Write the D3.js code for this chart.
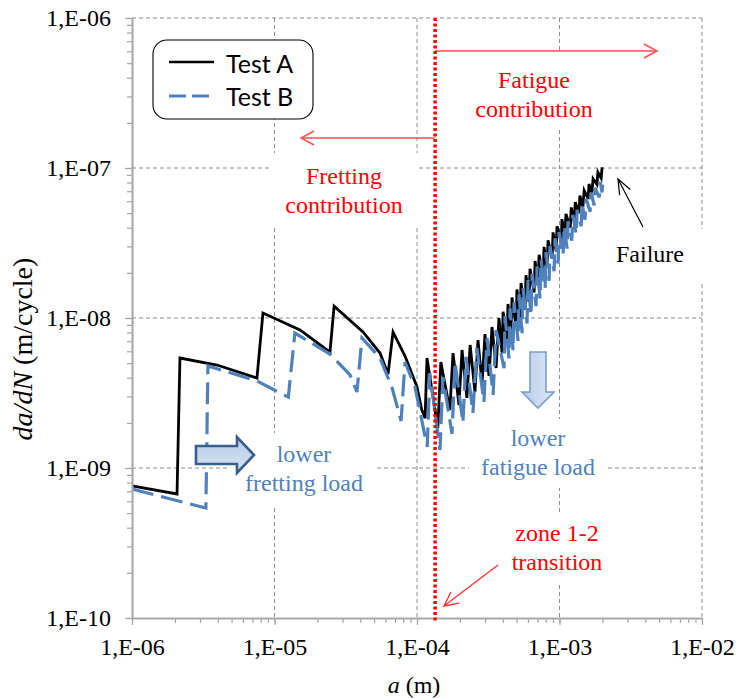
<!DOCTYPE html>
<html><head><meta charset="utf-8">
<script src="https://cdn.jsdelivr.net/npm/d3@7"></script>
<style>
html,body{margin:0;padding:0;background:#fff;}
svg{display:block;}
.serif{font-family:"Liberation Serif","Times New Roman","DejaVu Serif",serif;}
.sans{font-family:Lato,"Open Sans",sans-serif;}
</style></head>
<body>
<svg id="chart" width="736" height="698"></svg>
<script>
// ---------- data ----------
const xDomain = [1e-6, 1e-2];
const yDomain = [1e-10, 1e-6];
const xTickValues = [1e-6, 1e-5, 1e-4, 1e-3, 1e-2];
const xTickLabels = ["1,E-06", "1,E-05", "1,E-04", "1,E-03", "1,E-02"];
const yTickValues = [1e-10, 1e-9, 1e-8, 1e-7, 1e-6];
const yTickLabels = ["1,E-10", "1,E-09", "1,E-08", "1,E-07", "1,E-06"];
const seriesNames = ["Test A", "Test B"];

// Test A : crack length a (m) and da/dN (m/cycle)
const testA_a = [1.00e-6, 2.07e-6, 2.17e-6, 3.95e-6, 7.53e-6, 8.30e-6, 1.51e-5, 2.45e-5, 2.62e-5,
  4.18e-5, 5.50e-5, 6.26e-5, 6.79e-5, 8.24e-5, 1.00e-4, 1.08e-4, 1.14e-4,
  1.175e-4, 1.40e-4, 1.47e-4, 1.70e-4, 1.79e-4, 1.97e-4, 2.07e-4, 2.24e-4, 2.36e-4, 2.55e-4,
  2.68e-4, 2.86e-4, 3.00e-4, 3.20e-4, 3.36e-4, 3.59e-4, 3.76e-4,
  3.95e-4, 4.02e-4, 4.28e-4, 4.35e-4, 4.57e-4, 4.64e-4, 4.95e-4, 5.03e-4, 5.29e-4, 5.37e-4,
  5.73e-4, 5.82e-4, 6.11e-4, 6.21e-4, 6.63e-4, 6.74e-4, 7.07e-4, 7.19e-4, 7.67e-4, 7.79e-4,
  8.18e-4, 8.31e-4, 8.87e-4, 9.01e-4, 9.46e-4, 9.61e-4, 1.03e-3, 1.04e-3, 1.09e-3, 1.11e-3,
  1.19e-3, 1.21e-3, 1.27e-3, 1.29e-3, 1.37e-3, 1.39e-3, 1.46e-3, 1.49e-3, 1.59e-3, 1.61e-3,
  1.69e-3, 1.72e-3, 1.83e-3, 1.86e-3, 1.96e-3, 1.99e-3];
const testA_dadN = [7.59e-10, 6.71e-10, 5.41e-9, 4.86e-9, 3.98e-9, 1.08e-8, 8.32e-9, 5.93e-9, 1.20e-8,
  8.07e-9, 5.84e-9, 4.23e-9, 8.07e-9, 5.58e-9, 3.47e-9, 2.44e-9, 2.15e-9,
  5.41e-9, 1.85e-9, 5.09e-9, 2.44e-9, 5.84e-9, 2.63e-9, 6.12e-9, 2.93e-9, 6.61e-9, 3.21e-9,
  7.13e-9, 3.63e-9, 7.82e-9, 4.11e-9, 8.71e-9, 4.64e-9, 1.00e-8,
  5.87e-9, 1.10e-8, 6.76e-9, 1.24e-8, 7.62e-9, 1.37e-8, 8.80e-9, 1.55e-8, 9.88e-9, 1.71e-8,
  1.14e-8, 1.93e-8, 1.28e-8, 2.13e-8, 1.48e-8, 2.40e-8, 1.66e-8, 2.64e-8, 1.92e-8, 2.98e-8,
  2.16e-8, 3.29e-8, 2.49e-8, 3.72e-8, 2.80e-8, 4.09e-8, 3.21e-8, 4.56e-8, 3.54e-8, 4.94e-8,
  4.00e-8, 5.46e-8, 4.41e-8, 5.92e-8, 4.99e-8, 6.54e-8, 5.50e-8, 7.08e-8, 6.22e-8, 7.82e-8,
  6.87e-8, 8.47e-8, 7.76e-8, 9.36e-8, 8.56e-8, 1.01e-7];

// Test B
const testB_a = [1.00e-6, 3.30e-6, 3.41e-6, 7.53e-6, 1.25e-5, 1.39e-5, 2.45e-5, 3.39e-5, 3.79e-5,
  4.11e-5, 5.50e-5, 6.69e-5, 7.73e-5, 8.24e-5, 9.68e-5, 1.18e-4,
  1.23e-4, 1.45e-4, 1.52e-4, 1.76e-4, 1.85e-4, 2.10e-4, 2.21e-4, 2.47e-4, 2.63e-4, 2.95e-4,
  3.10e-4, 3.42e-4, 3.59e-4,
  4.08e-4, 4.15e-4, 4.42e-4, 4.50e-4, 4.72e-4, 4.80e-4, 5.12e-4, 5.20e-4, 5.46e-4, 5.55e-4,
  5.92e-4, 6.01e-4, 6.31e-4, 6.42e-4, 6.85e-4, 6.96e-4, 7.30e-4, 7.42e-4, 7.92e-4, 8.05e-4,
  8.45e-4, 8.58e-4, 9.16e-4, 9.31e-4, 9.77e-4, 9.93e-4, 1.06e-3, 1.08e-3, 1.13e-3, 1.15e-3,
  1.22e-3, 1.24e-3, 1.31e-3, 1.33e-3, 1.42e-3, 1.44e-3, 1.51e-3, 1.54e-3, 1.64e-3, 1.67e-3,
  1.75e-3, 1.78e-3, 1.90e-3, 1.93e-3, 1.99e-3, 2.02e-3];
const testB_dadN = [7.24e-10, 5.41e-10, 4.79e-9, 3.80e-9, 2.97e-9, 7.94e-9, 5.75e-9, 4.17e-9, 3.21e-9,
  7.36e-9, 5.41e-9, 3.41e-9, 2.06e-9, 5.09e-9, 3.47e-9, 1.38e-9,
  4.30e-9, 1.32e-9, 4.04e-9, 1.69e-9, 5.09e-9, 2.00e-9, 5.50e-9, 2.33e-9, 6.31e-9, 2.75e-9,
  7.36e-9, 3.07e-9, 8.32e-9,
  4.63e-9, 1.03e-8, 5.38e-9, 1.16e-8, 6.06e-9, 1.28e-8, 7.03e-9, 1.44e-8, 7.93e-9, 1.58e-8,
  9.19e-9, 1.79e-8, 1.04e-8, 1.97e-8, 1.20e-8, 2.21e-8, 1.35e-8, 2.44e-8, 1.57e-8, 2.75e-8,
  1.77e-8, 3.02e-8, 2.05e-8, 3.40e-8, 2.31e-8, 3.74e-8, 2.62e-8, 4.11e-8, 2.90e-8, 4.43e-8,
  3.28e-8, 4.88e-8, 3.62e-8, 5.26e-8, 4.09e-8, 5.77e-8, 4.52e-8, 6.22e-8, 5.11e-8, 6.84e-8,
  5.63e-8, 7.38e-8, 6.38e-8, 8.10e-8, 6.88e-8, 8.58e-8];

// zone 1-2 transition crack length (m)
const transitionA = 1.34e-4;

// ---------- drawing ----------
const L = 132, R = 702, T = 18, B = 618;
const svg = d3.select("#chart");

const x = d3.scaleLog().domain(xDomain).range([L, R]);
const y = d3.scaleLog().domain(yDomain).range([B, T]);

const gGrid = svg.append("g");
const gMask = svg.append("g");
const gData = svg.append("g");
const gAxes = svg.append("g");
const gAnn = svg.append("g");
const gTop = svg.append("g");

// grid
const gridColor = "#8c8c8c";
gGrid.selectAll("line.vx").data(xTickValues.slice(1)).join("line")
  .attr("x1", d => x(d)).attr("x2", d => x(d)).attr("y1", T).attr("y2", B)
  .attr("stroke", gridColor).attr("stroke-width", 1).attr("stroke-dasharray", "4,3");
gGrid.selectAll("line.hy").data(yTickValues.slice(1)).join("line")
  .attr("y1", d => y(d)).attr("y2", d => y(d)).attr("x1", L).attr("x2", R)
  .attr("stroke", gridColor).attr("stroke-width", 1).attr("stroke-dasharray", "4,3");

// axes
const axisColor = "#a6a6a6";
function styleAxis(g) {
  g.attr("font-family", null).attr("font-size", null).attr("class", "serif");
  g.select(".domain").attr("stroke", axisColor).attr("stroke-width", 1.6);
  g.selectAll(".tick line").attr("stroke", axisColor).attr("stroke-width", 1.2);
  g.selectAll("text").attr("class", "serif").style("font-size", "24px").attr("fill", "#000");
}
const xMinor = gAxes.append("g").attr("transform", `translate(0,${B})`)
  .call(d3.axisBottom(x).tickValues(x.ticks()).tickFormat("").tickSizeInner(5).tickSizeOuter(0));
styleAxis(xMinor);
const xMajor = gAxes.append("g").attr("transform", `translate(0,${B})`)
  .call(d3.axisBottom(x).tickValues(xTickValues).tickFormat((d, i) => xTickLabels[i])
    .tickSizeInner(7).tickSizeOuter(0).tickPadding(13));
styleAxis(xMajor);
const yMinor = gAxes.append("g").attr("transform", `translate(${L},0)`)
  .call(d3.axisLeft(y).tickValues(y.ticks()).tickFormat("").tickSizeInner(5).tickSizeOuter(0));
styleAxis(yMinor);
const yMajor = gAxes.append("g").attr("transform", `translate(${L},0)`)
  .call(d3.axisLeft(y).tickValues(yTickValues).tickFormat((d, i) => yTickLabels[i])
    .tickSizeInner(7).tickSizeOuter(0).tickPadding(14));
styleAxis(yMajor);

// axis titles
const xt = svg.append("text").attr("class", "serif").attr("x", 414).attr("y", 693)
  .attr("text-anchor", "middle").style("font-size", "24px");
xt.append("tspan").attr("font-style", "italic").text("a");
xt.append("tspan").text(" (m)");
const yt = svg.append("text").attr("class", "serif").attr("transform", "translate(32,349) rotate(-90)")
  .attr("text-anchor", "middle").style("font-size", "28px");
yt.append("tspan").attr("font-style", "italic").text("da/dN");
yt.append("tspan").text(" (m/cycle)");

// data lines
const line = d3.line().x(d => x(d[0])).y(d => y(d[1]));
const seriesA = testA_a.map((a, i) => [a, testA_dadN[i]]);
const seriesB = testB_a.map((a, i) => [a, testB_dadN[i]]);
gData.append("path").attr("d", line(seriesA)).attr("fill", "none")
  .attr("stroke", "#000").attr("stroke-width", 2.8).attr("stroke-linejoin", "miter");
gData.append("path").attr("d", line(seriesB)).attr("fill", "none")
  .attr("stroke", "#4F81BD").attr("stroke-width", 3.2).attr("stroke-dasharray", "22,8");

// text annotations with white backgrounds
function label(lines, cx, baselines, color, size, pad) {
  const g = gAnn.append("g");
  lines.forEach((t, i) => {
    g.append("text").attr("class", "serif").attr("x", cx).attr("y", baselines[i])
      .attr("text-anchor", "middle").style("font-size", size + "px").attr("fill", color).text(t);
  });
  const bb = g.node().getBBox();
  gMask.append("rect").attr("x", bb.x - pad[0]).attr("y", bb.y - pad[1])
    .attr("width", bb.width + pad[0] + pad[2]).attr("height", bb.height + pad[1] + pad[3])
    .attr("fill", "#fff");
}
const red = "#FF0000";
const blueText = "#4F81BD";
label(["Fatigue", "contribution"], 534, [88, 117], red, 24, [14, 14, 14, 6]);
label(["Fretting", "contribution"], 344, [184, 213], red, 24, [16, 10, 16, 8]);
label(["lower", "fretting load"], 304, [462, 491], blueText, 24, [16, 8, 12, 12]);
label(["lower", "fatigue load"], 538, [446, 475], blueText, 24, [12, 6, 12, 8]);
label(["Failure"], 650, [262], "#000", 24, [8, 12, 20, 14]);
label(["zone 1-2", "transition"], 557, [541, 570], red, 24, [8, 8, 8, 10]);

// thin arrows
function arrow(g, x1, y1, x2, y2, color, w, len, half) {
  g.append("line").attr("x1", x1).attr("y1", y1).attr("x2", x2).attr("y2", y2)
    .attr("stroke", color).attr("stroke-width", w);
  const dx = x2 - x1, dy = y2 - y1, n = Math.hypot(dx, dy);
  const ux = dx / n, uy = dy / n, px = -uy, py = ux;
  const bx = x2 - ux * len, by = y2 - uy * len;
  g.append("path").attr("d",
    `M${bx + px * half},${by + py * half}L${x2},${y2}L${bx - px * half},${by - py * half}`)
    .attr("fill", "none").attr("stroke", color).attr("stroke-width", w);
}
const xt0 = x(transitionA);
arrow(gAnn, xt0, 51, 657, 51, "#FF4F4F", 1.5, 13, 7);
arrow(gAnn, xt0, 138, 301, 138, "#FF4F4F", 1.5, 13, 7);
arrow(gAnn, 498, 565, 444, 606, "#FF3030", 1.3, 14, 7);
arrow(gAnn, 643, 227, 618, 179, "#000", 1.2, 15, 6);

// block arrows
const defs = svg.append("defs");
const gr = defs.append("linearGradient").attr("id", "gArrowR").attr("x1", 0).attr("y1", 0).attr("x2", 0).attr("y2", 1);
gr.append("stop").attr("offset", 0).attr("stop-color", "#B3CBEA");
gr.append("stop").attr("offset", 1).attr("stop-color", "#D9E5F4");
const gd = defs.append("linearGradient").attr("id", "gArrowD").attr("x1", 0).attr("y1", 0).attr("x2", 1).attr("y2", 0);
gd.append("stop").attr("offset", 0).attr("stop-color", "#B8CEEA");
gd.append("stop").attr("offset", 1).attr("stop-color", "#DCE7F5");
gAnn.append("path")
  .attr("d", "M196,446L237,446L237,437L254,455L237,473L237,464L196,464Z")
  .attr("fill", "url(#gArrowR)").attr("stroke", "#3B5F8C").attr("stroke-width", 2.6)
  .attr("stroke-linejoin", "miter");
gAnn.append("path")
  .attr("d", "M530,352L546,352L546,392L554,392L538,408L522,392L530,392Z")
  .attr("fill", "url(#gArrowD)").attr("stroke", "#7E9CC6").attr("stroke-width", 1.6);

// legend
const leg = gAnn.append("g");
leg.append("rect").attr("x", 153).attr("y", 40).attr("width", 160).attr("height", 79)
  .attr("rx", 14).attr("ry", 14).attr("fill", "#fff").attr("stroke", "#000").attr("stroke-width", 1.1);
leg.append("line").attr("x1", 169).attr("x2", 214).attr("y1", 62).attr("y2", 62)
  .attr("stroke", "#000").attr("stroke-width", 2.6);
leg.append("line").attr("x1", 169).attr("x2", 209).attr("y1", 96).attr("y2", 96)
  .attr("stroke", "#4F81BD").attr("stroke-width", 3).attr("stroke-dasharray", "17,6");
leg.selectAll("text.lg").data(seriesNames).join("text")
  .attr("class", "sans").attr("x", 226).attr("y", (d, i) => 73 + i * 33)
  .style("font-size", "25px").attr("fill", "#000").text(d => d);

// red dotted transition line
gTop.append("line").attr("x1", xt0).attr("x2", xt0).attr("y1", T).attr("y2", B + 3)
  .attr("stroke", "#FF0000").attr("stroke-width", 3.5).attr("stroke-dasharray", "3,2.5");
</script>
</body></html>
